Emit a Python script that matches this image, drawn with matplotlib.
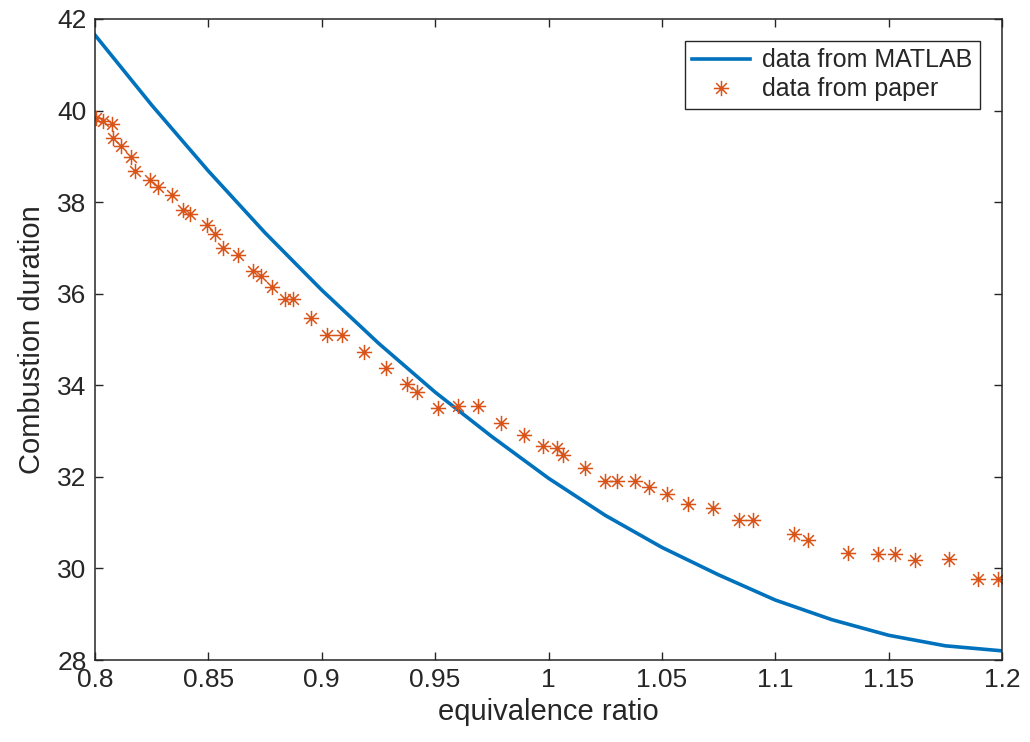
import numpy as np
import matplotlib.pyplot as plt
from matplotlib.path import Path

# curve (polynomial fit drawn in MATLAB)
phi_matlab = [0.800, 0.825, 0.850, 0.875, 0.900, 0.925, 0.950, 0.975, 1.000,
              1.025, 1.050, 1.075, 1.100, 1.125, 1.150, 1.175, 1.200]
dur_matlab = [41.65, 40.12, 38.68, 37.33, 36.08, 34.92, 33.85, 32.88, 31.97,
              31.16, 30.46, 29.86, 29.31, 28.88, 28.54, 28.31, 28.20]

phi_paper = [0.8005, 0.8037, 0.8074, 0.8080, 0.8116, 0.8158, 0.8176, 0.8242, 0.8279,
             0.8340, 0.8387, 0.8419, 0.8493, 0.8529, 0.8566, 0.8629, 0.8698, 0.8732,
             0.8779, 0.8838, 0.8875, 0.8951, 0.9022, 0.9090, 0.9186, 0.9283, 0.9377,
             0.9421, 0.9514, 0.9602, 0.9690, 0.9791, 0.9893, 0.9974, 1.0036, 1.0065,
             1.0161, 1.0249, 1.0300, 1.0381, 1.0445, 1.0521, 1.0615, 1.0727, 1.0842,
             1.0903, 1.1084, 1.1146, 1.1322, 1.1455, 1.1528, 1.1616, 1.1766, 1.1896,
             1.1984]
dur_paper = [39.83, 39.78, 39.71, 39.41, 39.22, 38.99, 38.68, 38.49, 38.34,
             38.15, 37.83, 37.74, 37.49, 37.30, 36.99, 36.85, 36.50, 36.39,
             36.14, 35.88, 35.88, 35.46, 35.10, 35.10, 34.73, 34.37, 34.02,
             33.86, 33.51, 33.54, 33.54, 33.17, 32.92, 32.68, 32.63, 32.48,
             32.19, 31.90, 31.90, 31.90, 31.77, 31.63, 31.40, 31.33, 31.05,
             31.05, 30.75, 30.62, 30.33, 30.32, 30.32, 30.19, 30.20, 29.77,
             29.77]

x_ticks = [0.8, 0.85, 0.9, 0.95, 1.0, 1.05, 1.1, 1.15, 1.2]
x_ticklabels = ["0.8", "0.85", "0.9", "0.95", "1", "1.05", "1.1", "1.15", "1.2"]
y_ticks = [28, 30, 32, 34, 36, 38, 40, 42]

# MATLAB style asterisk marker
s = 0.7
asterisk = Path([(-1, 0), (1, 0), (0, -1), (0, 1), (-s, -s), (s, s), (-s, s), (s, -s)],
                [Path.MOVETO, Path.LINETO] * 4)

plt.rcParams['font.family'] = ['Liberation Sans', 'DejaVu Sans']
txt = '#262626'

fig = plt.figure(figsize=(10.30, 7.42), dpi=100)
ax = fig.add_axes([95 / 1030, 1 - 660 / 742, 907 / 1030, 641 / 742])

ax.plot(phi_matlab, dur_matlab, '-', color='#0072BD', linewidth=2.6, label='data from MATLAB')
ax.plot(phi_paper, dur_paper, linestyle='none', marker=asterisk, markersize=11,
        markeredgewidth=1.1, color='#D95319', label='data from paper')

ax.set_xlim(0.8, 1.2)
ax.set_ylim(28, 42)
ax.set_xticks(x_ticks)
ax.set_xticklabels(x_ticklabels)
ax.set_yticks(y_ticks)
ax.tick_params(direction='in', top=True, right=True, length=6, width=1,
               labelsize=19, colors=txt, pad=6)
for sp in ax.spines.values():
    sp.set_color(txt)
    sp.set_linewidth(1.1)

ax.set_xlabel('equivalence ratio', fontsize=21, color=txt, labelpad=4)
ax.set_ylabel('Combustion duration', fontsize=21, color=txt, labelpad=8)

leg = ax.legend(loc='upper right', bbox_to_anchor=(0.976, 0.966), borderaxespad=0,
                fontsize=18, handlelength=2.3, fancybox=False, framealpha=1,
                edgecolor=txt, borderpad=0.3, labelspacing=0.2, handletextpad=0.5)
leg.get_frame().set_linewidth(1.0)
for t in leg.get_texts():
    t.set_color(txt)

fig.savefig('out.png', dpi=100)
